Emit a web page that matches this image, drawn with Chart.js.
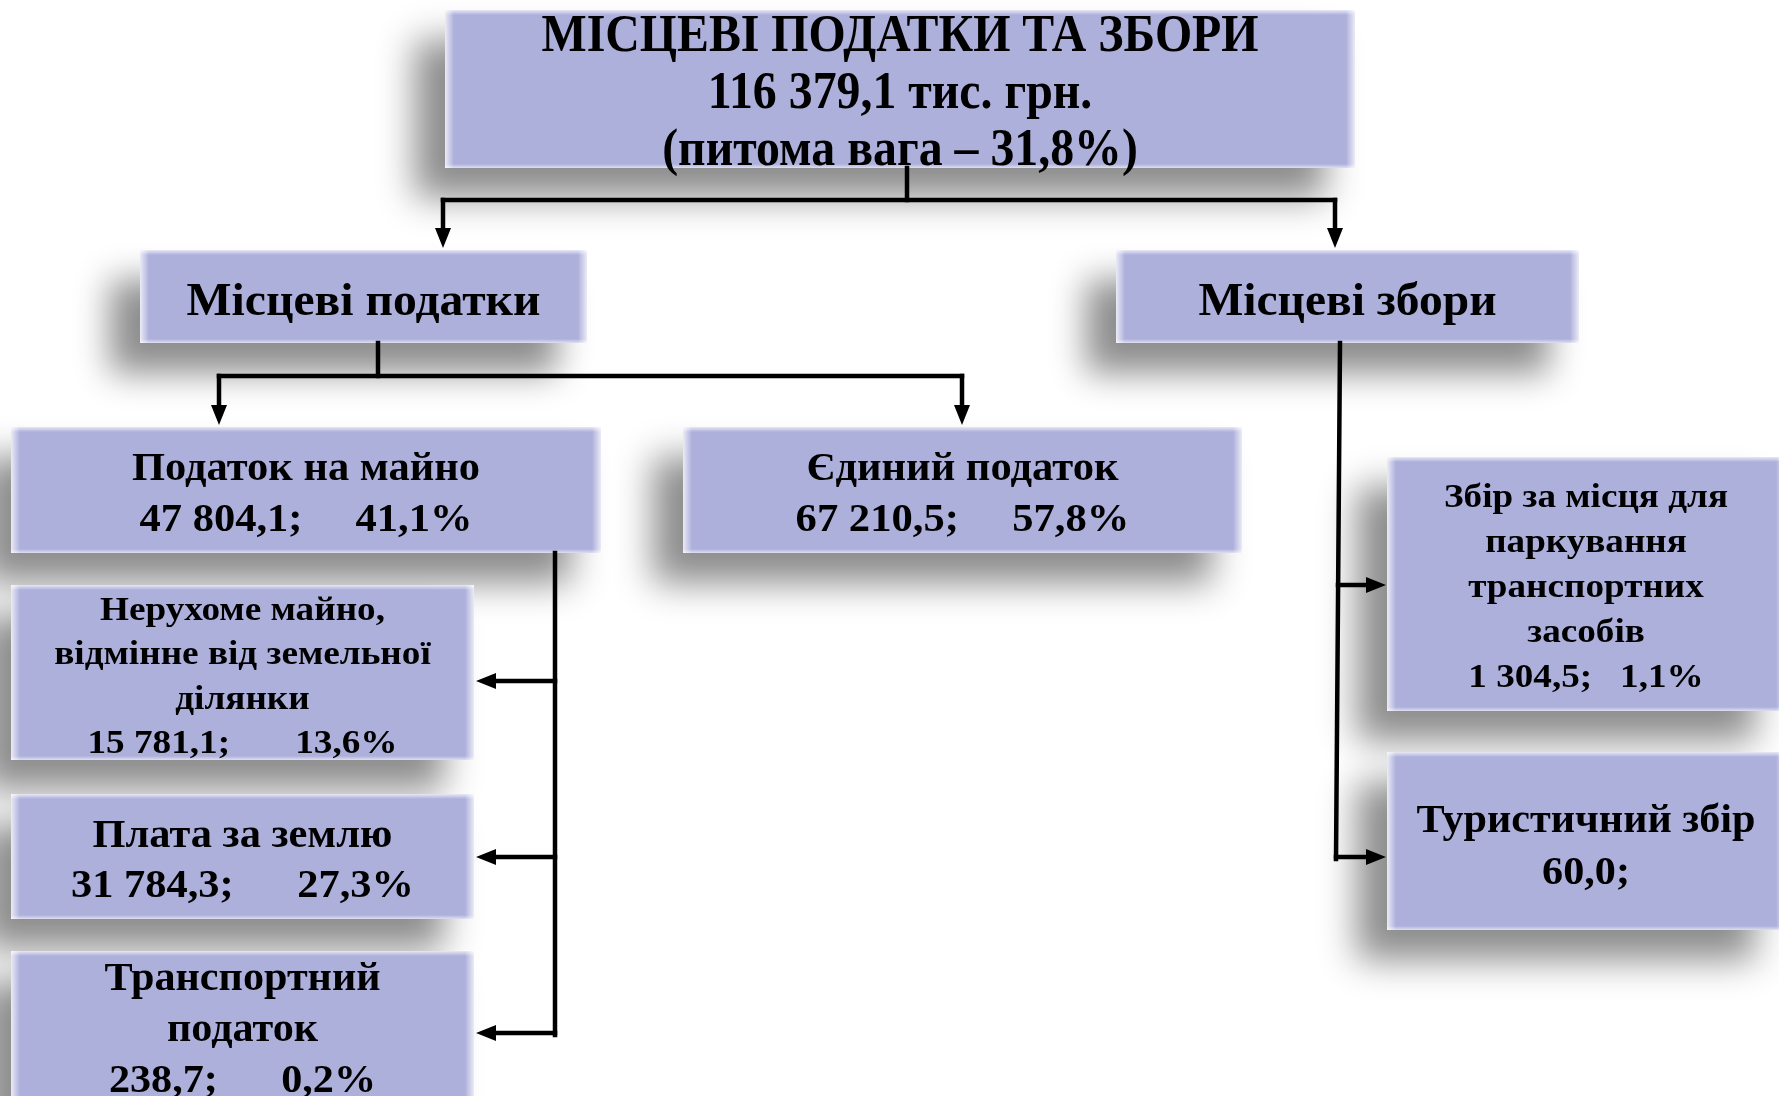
<!DOCTYPE html>
<html>
<head>
<meta charset="utf-8">
<script src="https://cdn.jsdelivr.net/npm/chart.js@4.4.1/dist/chart.umd.min.js"></script>
<style>
  html, body { margin: 0; padding: 0; background: #fff; overflow: hidden; }
  canvas { display: block; }
</style>
</head>
<body>
<canvas id="myChart" width="1779" height="1096"></canvas>
<script>
// --- data ---
const names = [
  ['МІСЦЕВІ ПОДАТКИ ТА ЗБОРИ'],
  ['Місцеві податки'],
  ['Місцеві збори'],
  ['Податок на майно'],
  ['Єдиний податок'],
  ['Нерухоме майно,', 'відмінне від земельної', 'ділянки'],
  ['Плата за землю'],
  ['Транспортний', 'податок'],
  ['Збір за місця для', 'паркування', 'транспортних', 'засобів'],
  ['Туристичний збір']
];
const amounts = [116379.1, null, null, 47804.1, 67210.5, 15781.1, 31784.3, 238.7, 1304.5, 60.0];
const shares  = [31.8, null, null, 41.1, 57.8, 13.6, 27.3, 0.2, 1.1, null];

// --- layout (canvas units) ---
const boxes = [
  {x0: 445,  y0: 10,  x1: 1355, y1: 168,  size: 53, lh: 57, fit: 717, dy: 5},
  {x0: 140,  y0: 250, x1: 587,  y1: 343,  size: 46, lh: 50, fit: 354, dy: 7},
  {x0: 1116, y0: 250, x1: 1579, y1: 343,  size: 46, lh: 50, fit: 298, dy: 7},
  {x0: 11,   y0: 427, x1: 601,  y1: 553,  size: 40, lh: 51, fit: 348, gap: 5, dy: 5},
  {x0: 683,  y0: 427, x1: 1242, y1: 553,  size: 40, lh: 51, fit: 312, gap: 5, dy: 5},
  {x0: 11,   y0: 585, x1: 474,  y1: 760,  size: 34, lh: 44.5, fit: 285, gap: 7, dy: 5},
  {x0: 11,   y0: 794, x1: 474,  y1: 919,  size: 40, lh: 50, fit: 300, gap: 6, dy: 5},
  {x0: 11,   y0: 951, x1: 474,  y1: 1105, size: 40, lh: 51, fit: 276, gap: 6, dy: 3},
  {x0: 1387, y0: 457, x1: 1785, y1: 711,  size: 34, lh: 45, fit: 284, gap: 3, dy: 4},
  {x0: 1387, y0: 752, x1: 1785, y1: 930,  size: 40, lh: 52, fit: 339, dy: 7}
];
const lines = [
  [[907, 168], [907, 200]], [[443, 200], [1335, 200]],
  [[443, 200], [443, 248], 'a'], [[1335, 200], [1335, 248], 'a'],
  [[378, 343], [378, 376]], [[219, 376], [962, 376]],
  [[219, 376], [219, 425], 'a'], [[962, 376], [962, 425], 'a'],
  [[555, 553], [555, 1035]],
  [[555, 681], [476, 681], 'a'], [[555, 857], [476, 857], 'a'], [[555, 1033], [476, 1033], 'a'],
  [[1340, 343], [1336, 859]],
  [[1338, 585], [1386, 585], 'a'], [[1336, 857], [1386, 857], 'a']
];

function fmt(v) {
  let s = v.toFixed(1).replace('.', ',');
  let [i, d] = s.split(',');
  i = i.replace(/\B(?=(\d{3})+(?!\d))/g, ' ');
  return i + ',' + d;
}

function boxText(k) {
  let t = names[k].slice();
  if (k === 0) {
    t.push(fmt(amounts[k]) + ' тис. грн.');
    t.push('(питома вага – ' + fmt(shares[k]) + '%)');
  } else if (amounts[k] != null) {
    let v = fmt(amounts[k]) + ';';
    if (shares[k] != null) v += ' '.repeat(boxes[k].gap) + fmt(shares[k]) + '%';
    t.push(v);
  }
  return t;
}

const diagram = {
  id: 'diagram',
  afterDraw(chart) {
    const ctx = chart.ctx;
    const xs = chart.scales.x, ys = chart.scales.y;
    const px = v => xs.getPixelForValue(v), py = v => ys.getPixelForValue(v);
    const col = '#aeb0dc';

    // shadows
    boxes.forEach(b => {
      ctx.save();
      ctx.shadowColor = 'rgba(0,0,0,0.45)';
      ctx.shadowBlur = 34;
      ctx.shadowOffsetX = -30;
      ctx.shadowOffsetY = 30;
      ctx.fillStyle = col;
      ctx.fillRect(px(b.x0), py(b.y0), px(b.x1) - px(b.x0), py(b.y1) - py(b.y0));
      ctx.restore();
    });

    // boxes
    boxes.forEach(b => {
      const x0 = px(b.x0), y0 = py(b.y0), w = px(b.x1) - x0, h = py(b.y1) - y0;
      ctx.fillStyle = col;
      ctx.fillRect(x0, y0, w, h);
      let g = ctx.createLinearGradient(x0, 0, x0 + 9, 0);
      g.addColorStop(0, 'rgba(255,255,255,0.75)');
      g.addColorStop(1, 'rgba(255,255,255,0)');
      ctx.fillStyle = g; ctx.fillRect(x0, y0, 9, h);
      g = ctx.createLinearGradient(x0 + w, 0, x0 + w - 9, 0);
      g.addColorStop(0, 'rgba(255,255,255,0.75)');
      g.addColorStop(1, 'rgba(255,255,255,0)');
      ctx.fillStyle = g; ctx.fillRect(x0 + w - 9, y0, 9, h);
      g = ctx.createLinearGradient(0, y0, 0, y0 + 5);
      g.addColorStop(0, 'rgba(255,255,255,0.7)');
      g.addColorStop(1, 'rgba(255,255,255,0)');
      ctx.fillStyle = g; ctx.fillRect(x0, y0, w, 5);
      g = ctx.createLinearGradient(0, y0 + h, 0, y0 + h - 4);
      g.addColorStop(0, 'rgba(255,255,255,0.6)');
      g.addColorStop(1, 'rgba(255,255,255,0)');
      ctx.fillStyle = g; ctx.fillRect(x0, y0 + h - 4, w, 4);
    });

    // connectors
    ctx.strokeStyle = '#000';
    ctx.fillStyle = '#000';
    ctx.lineWidth = 4.5;
    ctx.lineCap = 'square';
    lines.forEach(l => {
      const [a, b, arrow] = l;
      let ax = px(a[0]), ay = py(a[1]), bx = px(b[0]), by = py(b[1]);
      const ang = Math.atan2(by - ay, bx - ax);
      const len = 20, hw = 8;
      let ex = bx, ey = by;
      if (arrow) { ex = bx - Math.cos(ang) * len; ey = by - Math.sin(ang) * len; }
      ctx.beginPath(); ctx.moveTo(ax, ay); ctx.lineTo(ex, ey); ctx.stroke();
      if (arrow) {
        ctx.beginPath();
        ctx.moveTo(bx, by);
        ctx.lineTo(ex - Math.sin(ang) * hw, ey + Math.cos(ang) * hw);
        ctx.lineTo(ex + Math.sin(ang) * hw, ey - Math.cos(ang) * hw);
        ctx.closePath(); ctx.fill();
      }
    });

    // texts
    ctx.textAlign = 'center';
    ctx.textBaseline = 'middle';
    ctx.fillStyle = '#000';
    boxes.forEach((b, k) => {
      const t = boxText(k);
      ctx.font = 'bold ' + b.size + 'px "Liberation Serif", "Times New Roman", serif';
      const sx = b.fit / ctx.measureText(t[0]).width;
      const cx = (px(b.x0) + px(b.x1)) / 2, cy = (py(b.y0) + py(b.y1)) / 2;
      t.forEach((s, i) => {
        ctx.save();
        ctx.translate(cx, cy + (i - (t.length - 1) / 2) * b.lh + b.dy);
        ctx.scale(sx, 1);
        ctx.fillText(s, 0, 0);
        ctx.restore();
      });
    });
  }
};

const ctx = document.getElementById('myChart').getContext('2d');
const chart = new Chart(ctx, {
  type: 'scatter',
  data: { datasets: [] },
  options: {
    responsive: false,
    animation: false,
    devicePixelRatio: 1,
    layout: { padding: 0 },
    plugins: { legend: { display: false }, tooltip: { enabled: false } },
    scales: {
      x: { type: 'linear', min: 0, max: 1779, display: false },
      y: { type: 'linear', min: 0, max: 1096, reverse: true, display: false }
    }
  },
  plugins: [diagram]
});
</script>
</body>
</html>
